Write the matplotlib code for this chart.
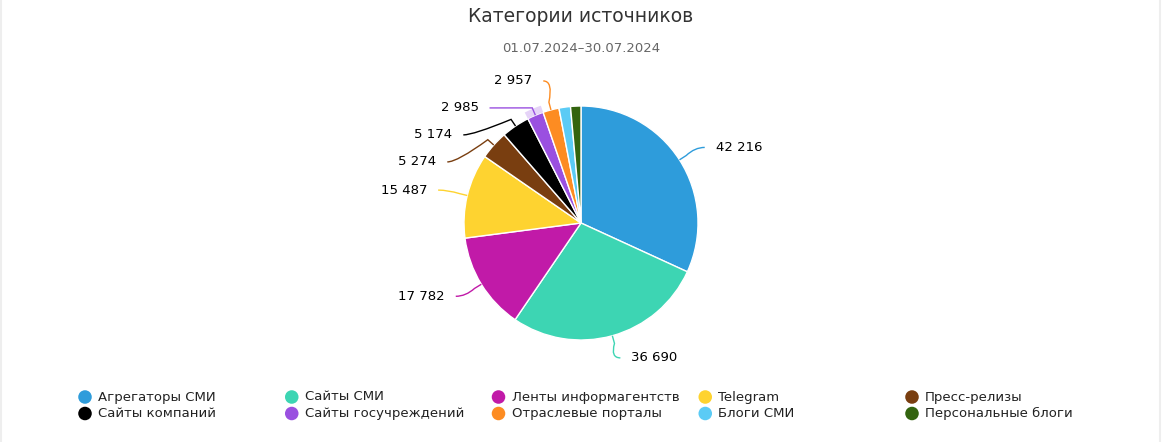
import numpy as np
import matplotlib.pyplot as plt
from matplotlib.patches import Wedge, PathPatch
from matplotlib.path import Path

W, H = 1162, 442
CX, CY = 581, 219        # pie centre, pixels (y up)
R = 117                  # pie radius, pixels
R_LAB = 147              # radius where connectors end
R_LAB_Y = 140            # radius used for the natural label height
LAB_GAP = 27             # min vertical spacing of labels

categories = [
    "Агрегаторы СМИ", "Сайты СМИ", "Ленты информагентств", "Telegram",
    "Пресс-релизы", "Сайты компаний", "Сайты госучреждений",
    "Отраслевые порталы", "Блоги СМИ", "Персональные блоги",
]
values = [42216, 36690, 17782, 15487, 5274, 5174, 2985, 2957, 2100, 1900]
show_label = [True, True, True, True, True, True, True, True, False, False]
colors = [
    "#2e9cdb", "#3dd5b3", "#c11aa8", "#fed330", "#793e10",
    "#000000", "#9a50e0", "#fd8c22", "#5bcbf5", "#33640f",
]
title = "Категории источников"
subtitle = "01.07.2024–30.07.2024"


def fmt(v):
    return f"{v:,}".replace(",", " ")


fig = plt.figure(figsize=(W / 100, H / 100), dpi=100)
ax = fig.add_axes([0, 0, 1, 1])

wedges, _ = ax.pie(
    values, colors=colors, startangle=90, counterclock=False,
    center=(CX, CY), radius=R, frame=True,
    wedgeprops=dict(edgecolor="white", linewidth=1),
)
ax.set_xlim(0, W)
ax.set_ylim(0, H)
ax.set_aspect("equal")
ax.axis("off")

# hover halo on the purple slice, like in the original screenshot
w = wedges[6]
ax.add_patch(Wedge((CX, CY), R + 7, w.theta1, w.theta2, width=7,
                   facecolor=colors[6], alpha=0.25, edgecolor="none"))

# label positions: natural point near the pie, crowded ones stacked downwards
labels = []
for i, wd in enumerate(wedges):
    if not show_label[i]:
        continue
    mid = np.deg2rad((wd.theta1 + wd.theta2) / 2)
    side = 1 if np.cos(mid) >= 0 else -1
    labels.append(dict(i=i, mid=mid, side=side,
                       ny=CY + R_LAB_Y * np.sin(mid),
                       ny_far=CY + R_LAB * np.sin(mid)))

for side in (1, -1):
    group = sorted([l for l in labels if l["side"] == side], key=lambda l: -l["ny"])
    crowded = any(b["ny"] > a["ny"] - LAB_GAP for a, b in zip(group, group[1:]))
    prev = None
    for l in group:
        if prev is None:
            l["y"] = l["ny_far"] if crowded else l["ny"]
        else:
            l["y"] = min(l["ny"], prev - LAB_GAP)
        prev = l["y"]

for l in labels:
    i, mid, side, y = l["i"], l["mid"], l["side"], l["y"]
    if abs(y - l["ny"]) > 1.5 and abs(y - l["ny_far"]) > 1.5:
        dy = min(abs(y - CY), R_LAB)
        ex = CX + side * np.sqrt(R_LAB ** 2 - dy ** 2)
    else:
        ex = CX + R_LAB * np.cos(mid)
    sx, sy = CX + R * np.cos(mid), CY + R * np.sin(mid)
    bx, by = CX + (R + 8) * np.cos(mid), CY + (R + 8) * np.sin(mid)
    path = Path([(sx, sy), (bx, by), (ex - side * 10, y), (ex, y)],
                [Path.MOVETO, Path.LINETO, Path.CURVE3, Path.CURVE3])
    ax.add_patch(PathPatch(path, facecolor="none", edgecolor=colors[i], lw=1))
    ax.text(ex + side * 11, y, fmt(values[i]), fontsize=9.5, color="#000000",
            ha="left" if side > 0 else "right", va="center")

ax.text(CX, H - 17, title, fontsize=13.5, color="#333333", ha="center", va="center")
ax.text(CX, H - 48, subtitle, fontsize=9.5, color="#666666", ha="center", va="center")

# legend, two rows of five, fixed item width
for k, name in enumerate(categories):
    col, row = k % 5, k // 5
    x0 = 85 + col * 206.75
    y0 = H - 397 - row * 16.5
    ax.scatter([x0], [y0], s=95, color=colors[k], edgecolors="none", clip_on=False)
    ax.text(x0 + 13, y0, name, fontsize=9.5, color="#222222", ha="left", va="center")

# faint frame on the sides
ax.plot([0.5, 0.5], [0, H], color="#eeeeee", lw=1.5)
ax.plot([W - 2, W - 2], [0, H], color="#eeeeee", lw=1.5)

fig.savefig("out.png", dpi=100)
